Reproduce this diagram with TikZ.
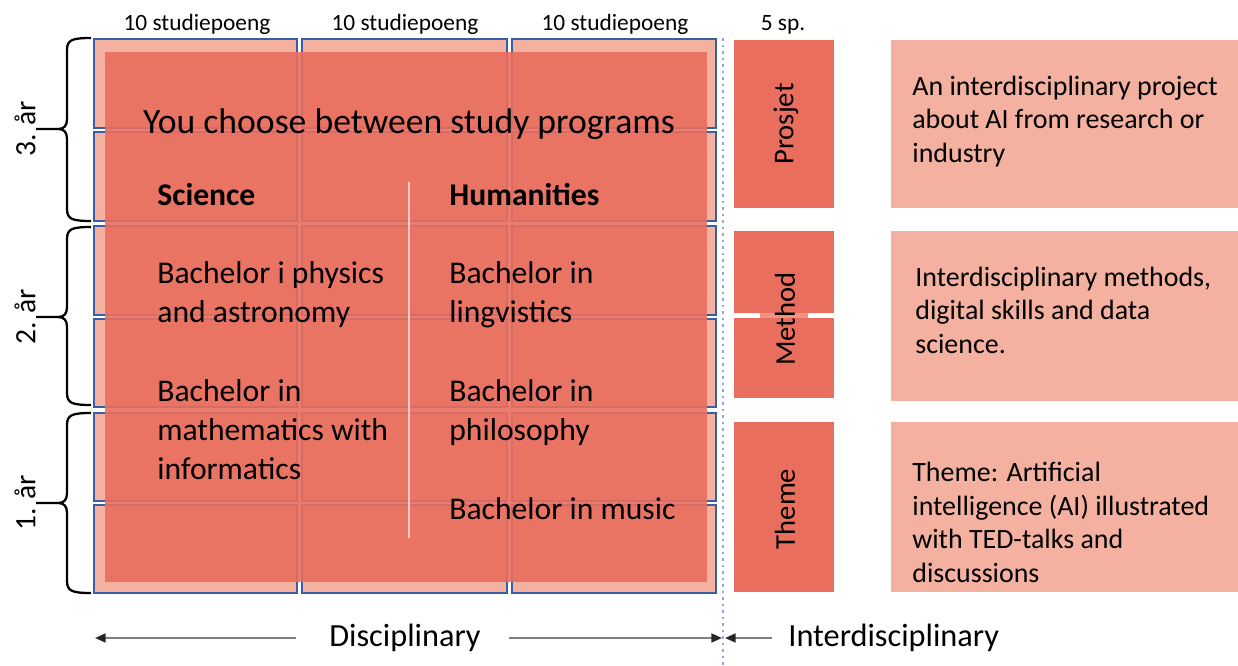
\documentclass[tikz,border=0pt]{standalone}
\usepackage{fontspec}
\setmainfont{Carlito}
\definecolor{salmon}{RGB}{233,110,94}
\definecolor{lightsalmon}{RGB}{244,177,160}
\definecolor{cellblue}{RGB}{56,94,164}
\definecolor{dotblue}{RGB}{143,170,220}
\definecolor{arrowgray}{RGB}{128,128,128}
\usetikzlibrary{arrows.meta}

\begin{document}
\begin{tikzpicture}[x=0.02cm,y=-0.02cm,every node/.style={inner sep=0pt},
        cell/.style={fill=lightsalmon,draw=cellblue,line width=1.1pt},
        yearbrace/.style={draw=black,line width=1.3pt},
        body/.style={font=\fontsize{18}{22}\selectfont,align=left,anchor=base west},
        head/.style={font=\fontsize{18}{22}\selectfont\bfseries,anchor=base west},
        side/.style={font=\fontsize{15.9}{19}\selectfont,align=left,anchor=base west},
        tag/.style={font=\fontsize{16.3}{19}\selectfont,rotate=90},
        year/.style={font=\fontsize{16.8}{19}\selectfont,rotate=90},
        points/.style={font=\fontsize{13.3}{15}\selectfont,anchor=base},
        arr/.style={draw=arrowgray,line width=1.2pt,-{Triangle[length=6pt,width=5pt,color=black!85]}}]
        \useasboundingbox (0,0) rectangle (1238,666);
        % the 3 x 6 grid of courses
        \foreach \xa/\xb in {94/297,302/507,512/716}
          \foreach \ya/\yb in {39/128,132/221,226/315,319/407,413/501,505/593}
            \draw[cell] (\xa,\ya) rectangle (\xb,\yb);
        \fill[salmon,opacity=0.9] (105,52) rectangle (707,582);
        \draw[white!65!salmon,line width=0.6pt] (409,182) -- (409,538);
        % credits
        \node[points] (sp1) at (197,31) {10 studiepoeng};
        \node[points] (sp2) at (405,31) {10 studiepoeng};
        \node[points] (sp3) at (615,31) {10 studiepoeng};
        \node[points] (sp4) at (783,31) {5 sp.};
        % years
        \draw[yearbrace] (91,38) .. controls (72,38) and (67,40) .. (67,50) -- (67,119)
          .. controls (67,126) and (64,129) .. (58,129) -- (36,129)
          (58,129) .. controls (64,129) and (67,132) .. (67,139) -- (67,209)
          .. controls (67,219) and (72,221) .. (91,221);
        \draw[yearbrace] (91,227) .. controls (72,227) and (67,229) .. (67,239) -- (67,307)
          .. controls (67,314) and (64,317) .. (58,317) -- (36,317)
          (58,317) .. controls (64,317) and (67,320) .. (67,327) -- (67,393)
          .. controls (67,403) and (72,405) .. (91,405);
        \draw[yearbrace] (91,413) .. controls (72,413) and (67,415) .. (67,425) -- (67,493)
          .. controls (67,500) and (64,503) .. (58,503) -- (36,503)
          (58,503) .. controls (64,503) and (67,506) .. (67,513) -- (67,581)
          .. controls (67,591) and (72,593) .. (91,593);
        \node[year] (y3) at (25,129) {3. år};
        \node[year] (y2) at (25,317) {2. år};
        \node[year] (y1) at (25,503) {1. år};
        % study programs (anchored at the last line)
        \node[font=\fontsize{20.3}{24}\selectfont,anchor=base] (title) at (409,133) {You choose between study programs};
        \node[head] (sci) at (157,205) {Science};
        \node[head] (hum) at (449,205) {Humanities};
        \node[body] (phys) at (157,322) {Bachelor i physics\\and astronomy};
        \node[body] (math) at (157,479) {Bachelor in\\mathematics with\\informatics};
        \node[body] (ling) at (449,322) {Bachelor in\\lingvistics};
        \node[body] (phil) at (449,440) {Bachelor in\\philosophy};
        \node[body] (mus) at (449,519) {Bachelor in music};
        % interdisciplinary part
        \draw[dotblue,line width=1.5pt,dash pattern=on 1.5pt off 2.2pt] (723,38) -- (723,666);
        \fill[salmon] (734,40) rectangle (834,208);
        \fill[salmon] (734,231) rectangle (834,313);
        \fill[salmon] (734,318) rectangle (834,398);
        \fill[lightsalmon!55!salmon] (760,313) rectangle (808,318);
        \fill[salmon] (734,422) rectangle (834,592);
        \node[tag] (prosjet) at (786,124) {Prosjet};
        \node[tag] (method) at (785,319) {Method};
        \node[tag] (theme) at (785,509) {Theme};
        \fill[lightsalmon] (891,40) rectangle (1238,208);
        \fill[lightsalmon] (891,231) rectangle (1238,401);
        \fill[lightsalmon] (891,422) rectangle (1238,592);
        \node[side] (prosjettxt) at (912,162) {An interdisciplinary project\\about AI from research or\\industry};
        \node[side] (methodtxt) at (915,353) {Interdisciplinary methods,\\digital skills and data\\science.};
        \node[side] (themetxt) at (912,582) {Theme: Artificial\\intelligence (AI) illustrated\\with TED-talks and\\discussions};
        % bottom arrows
        \node[font=\fontsize{18.4}{22}\selectfont] (disc) at (405,638) {Disciplinary};
        \node[font=\fontsize{18.4}{22}\selectfont,anchor=west] (inter) at (788,638) {Interdisciplinary};
        \coordinate (discL) at (95,638);
        \coordinate (discR) at (722,638);
        \coordinate (interL) at (725,638);
        \draw[arr,shorten <=0.66cm] (disc.west) -- (discL);
        \draw[arr,shorten <=0.56cm] (disc.east) -- (discR);
        \draw[arr,shorten <=0.32cm] (inter.west) -- (interL);
\end{tikzpicture}
\end{document}
